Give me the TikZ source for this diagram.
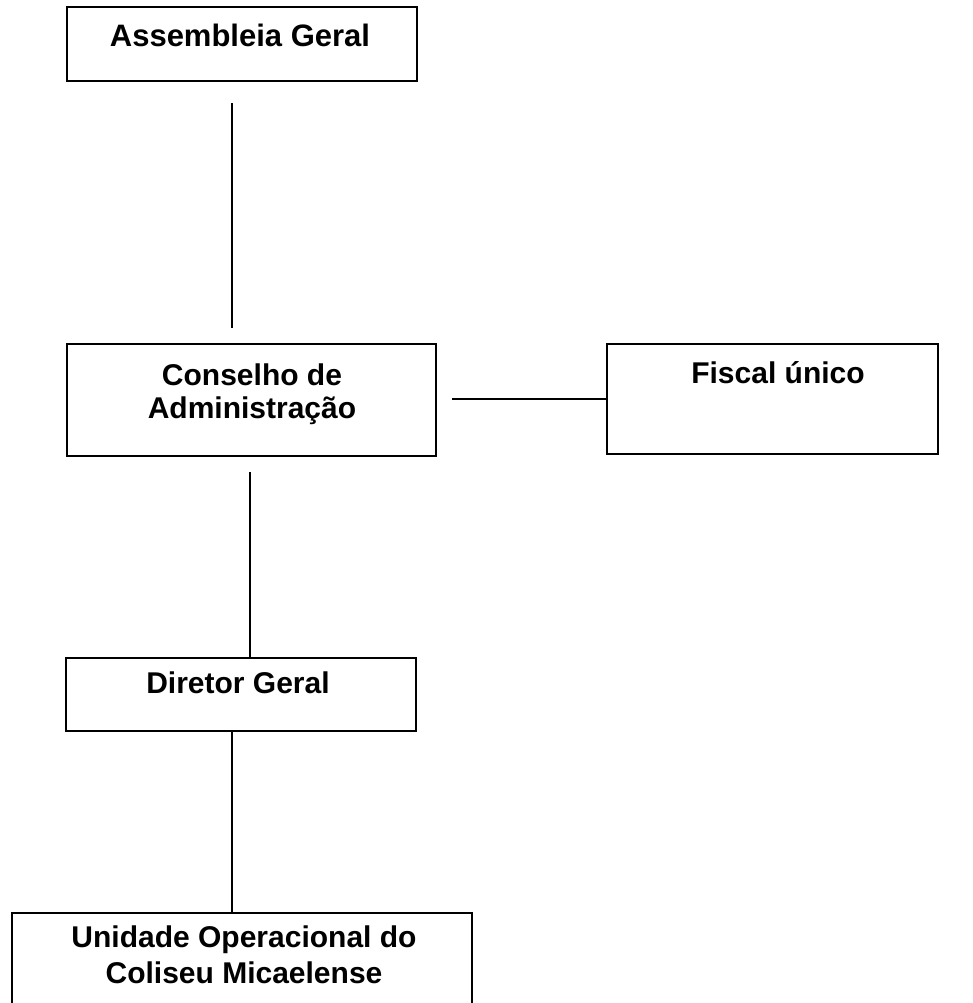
\documentclass[tikz,border=0pt]{standalone}
\usepackage{fontspec}
\setmainfont{Liberation Sans}
\begin{document}
\begin{tikzpicture}[x=1pt,y=-1pt,
  box/.style={draw=black, line width=2.2pt, inner sep=0pt, outer sep=0pt, rectangle},
  lbl/.style={inner sep=0pt, anchor=base, align=center, font=\bfseries\fontsize{30}{34}\selectfont},
  conn/.style={draw=black, line width=2pt}]
\clip (0,0) rectangle (973,1003);
\fill[white] (0,0) rectangle (973,1003);
% boxes
\node[box, minimum width=350pt, minimum height=74pt] (ag) at (242,44) {};
\node[box, minimum width=369pt, minimum height=112pt] (ca) at (251.5,400) {};
\node[box, minimum width=331pt, minimum height=110pt] (fu) at (772.5,399) {};
\node[box, minimum width=350pt, minimum height=73pt] (dg) at (241,694.5) {};
\node[box, minimum width=460pt, minimum height=127pt] (uo) at (242,976.5) {};
% texts (base anchor of a two-line node is the baseline of its last line)
\node[lbl, font=\bfseries\fontsize{31}{34}\selectfont] (tag) at (240,47) {Assembleia Geral};
\node[lbl, font=\bfseries\fontsize{30}{33}\selectfont] (tca) at (252,418) {Conselho de\\Administração};
\node[lbl] (tfu) at (778,383) {Fiscal único};
\node[lbl] (tdg) at (238,693) {Diretor Geral};
\node[lbl, font=\bfseries\fontsize{30}{36}\selectfont] (tuo) at (244,983) {Unidade Operacional do\\Coliseu Micaelense};
% connector end points
\coordinate (a1) at (232,103);
\coordinate (a2) at (232,328);
\coordinate (b1) at (250,472);
\coordinate (h1) at (452,399);
% connectors
\draw[conn] (a1) -- (a2);
\draw[conn] (b1) -- (b1 |- dg.north);
\draw[conn] (h1) -- (h1 -| fu.west);
\draw[conn] (dg.south -| a1) -- (uo.north -| a1);
\end{tikzpicture}
\end{document}
